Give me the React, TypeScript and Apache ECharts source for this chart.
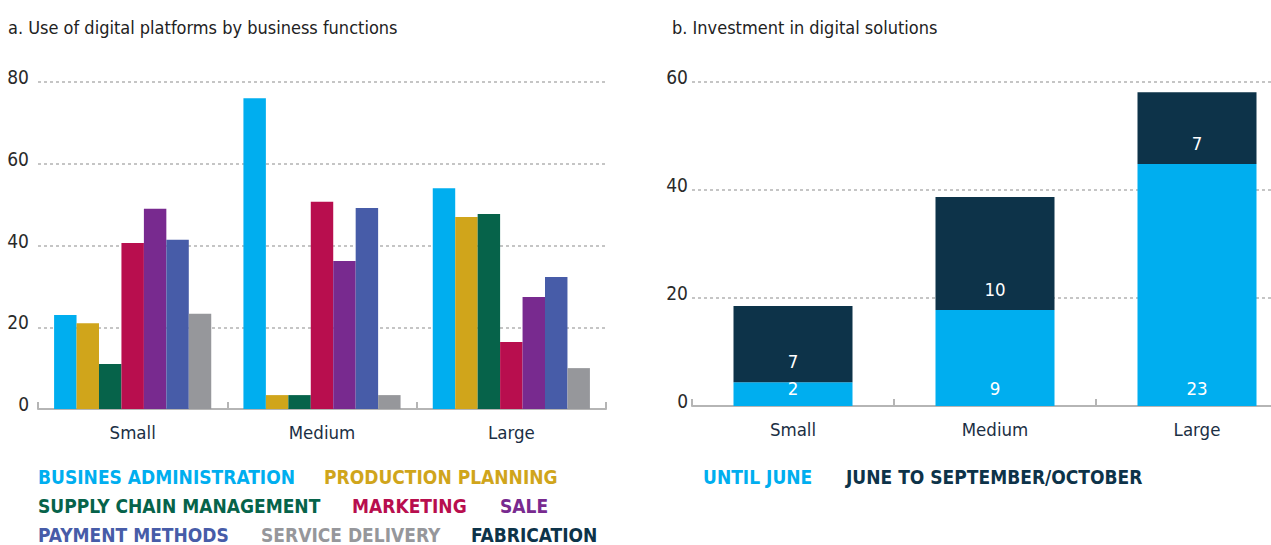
import React, { useEffect, useRef } from "react";
import * as echarts from "echarts";

const sizeCategories = ["Small", "Medium", "Large"];

const functionNames = [
  "BUSINES ADMINISTRATION",
  "PRODUCTION PLANNING",
  "SUPPLY CHAIN MANAGEMENT",
  "MARKETING",
  "SALE",
  "PAYMENT METHODS",
  "SERVICE DELIVERY",
];
const fabricationName = "FABRICATION";

const businesAdministration = [23, 76, 54];
const productionPlanning = [21, 3.4, 47];
const supplyChainManagement = [11, 3.4, 47.7];
const marketing = [40.6, 50.7, 16.4];
const sale = [49, 36.2, 27.4];
const paymentMethods = [41.4, 49.2, 32.3];
const serviceDelivery = [23.3, 3.4, 10];

const functionValues = [
  businesAdministration,
  productionPlanning,
  supplyChainManagement,
  marketing,
  sale,
  paymentMethods,
  serviceDelivery,
];

const functionColors = [
  "#00aeef",
  "#d0a51b",
  "#06634a",
  "#b80e4e",
  "#782a8f",
  "#475ca8",
  "#96979b",
];
const fabricationColor = "#0d3349";

const leftTicks = [0, 20, 40, 60, 80];
const rightTicks = [0, 20, 40, 60];

const investmentNames = ["UNTIL JUNE", "JUNE TO SEPTEMBER/OCTOBER"];
const untilJune = [4.4, 17.8, 44.8];
const juneToOctober = [14.1, 20.9, 13.3];
const untilJuneLabels = ["2", "9", "23"];
const juneToOctoberLabels = ["7", "10", "7"];
const investmentColors = ["#00aeef", "#0d3349"];

const titleA = "a. Use of digital platforms by business functions";
const titleB = "b. Investment in digital solutions";

const FONT = "'DejaVu Sans Condensed', 'Liberation Sans', sans-serif";

// legend layout (positions only)
const leftLegendPos = [
  [38, 477],
  [324, 477],
  [38, 506],
  [352, 506],
  [500, 506],
  [38, 535],
  [261, 535],
];
const fabricationPos = [471, 535];
const rightLegendPos = [
  [703, 477],
  [846, 477],
];

export default function App() {
  const ref = useRef<HTMLDivElement>(null);
  useEffect(() => {
    if (!ref.current) return;
    const chart = echarts.init(ref.current, undefined, { renderer: "svg" });

    const gridLine = {
      show: true,
      lineStyle: { color: "#b3b3b3", type: [3, 3] as any, width: 1.5 },
    };
    const axisLine = { show: true, lineStyle: { color: "#b5b5b5", width: 2 } };
    const yLabel = {
      fontFamily: FONT,
      fontSize: 19,
      color: "#2a2a2a",
      margin: 9,
      verticalAlign: "bottom",
      lineHeight: 10,
    };
    const xLabel = { fontFamily: FONT, fontSize: 18.5, color: "#1b2f44", margin: 14 };
    const xTick = { show: true, inside: true, length: 7, lineStyle: { color: "#b5b5b5", width: 2 } };

    const legendText = (text: string, pos: number[], color: string) => ({
      type: "text",
      x: pos[0],
      y: pos[1],
      style: {
        text,
        fill: color,
        fontFamily: FONT,
        fontWeight: "bold",
        fontSize: 19,
        verticalAlign: "middle",
      },
    });

    const option: any = {
      animation: false,
      title: [
        {
          text: titleA,
          left: 3,
          top: 13,
          textStyle: { fontFamily: FONT, fontSize: 18, fontWeight: "normal", color: "#222" },
        },
        {
          text: titleB,
          left: 667,
          top: 13,
          textStyle: { fontFamily: FONT, fontSize: 18, fontWeight: "normal", color: "#222" },
        },
      ],
      grid: [
        { left: 38, top: 82, width: 568, height: 327 },
        { left: 692, top: 82, width: 606, height: 324 },
      ],
      xAxis: [
        { type: "category", gridIndex: 0, data: sizeCategories, axisLine, axisTick: xTick, axisLabel: xLabel },
        { type: "category", gridIndex: 1, data: sizeCategories, axisLine, axisTick: xTick, axisLabel: xLabel },
      ],
      yAxis: [
        {
          type: "value",
          gridIndex: 0,
          min: leftTicks[0],
          max: leftTicks[leftTicks.length - 1],
          interval: 20,
          splitLine: gridLine,
          axisLine: { show: false },
          axisTick: { show: false },
          axisLabel: yLabel,
        },
        {
          type: "value",
          gridIndex: 1,
          min: rightTicks[0],
          max: rightTicks[rightTicks.length - 1],
          interval: 20,
          splitLine: gridLine,
          axisLine: { show: false },
          axisTick: { show: false },
          axisLabel: { ...yLabel, margin: 4 },
        },
      ],
      series: [
        ...functionNames.map((name, i) => ({
          name,
          type: "bar",
          xAxisIndex: 0,
          yAxisIndex: 0,
          data: functionValues[i],
          itemStyle: { color: functionColors[i] },
          barGap: "0%",
          barCategoryGap: "17%",
        })),
        {
          name: investmentNames[0],
          type: "bar",
          xAxisIndex: 1,
          yAxisIndex: 1,
          stack: "inv",
          data: untilJune,
          barWidth: 119,
          itemStyle: { color: investmentColors[0] },
          label: {
            show: true,
            position: "insideBottom",
            distance: 8,
            color: "#fff",
            fontFamily: FONT,
            fontSize: 18.5,
            formatter: (p: any) => untilJuneLabels[p.dataIndex],
          },
        },
        {
          name: investmentNames[1],
          type: "bar",
          xAxisIndex: 1,
          yAxisIndex: 1,
          stack: "inv",
          data: juneToOctober,
          barWidth: 119,
          itemStyle: { color: investmentColors[1] },
          label: {
            show: true,
            position: "insideBottom",
            distance: 11,
            color: "#fff",
            fontFamily: FONT,
            fontSize: 18.5,
            formatter: (p: any) => juneToOctoberLabels[p.dataIndex],
          },
        },
      ],
      graphic: [
        ...functionNames.map((n, i) => legendText(n, leftLegendPos[i], functionColors[i])),
        legendText(fabricationName, fabricationPos, fabricationColor),
        ...investmentNames.map((n, i) => legendText(n, rightLegendPos[i], investmentColors[i])),
      ],
    };
    chart.setOption(option);
    return () => chart.dispose();
  }, []);
  return (
    <div
      style={{
        position: "fixed",
        left: 0,
        top: 0,
        width: 1271,
        height: 545,
        overflow: "hidden",
        background: "#fff",
      }}
    >
      <div ref={ref} style={{ width: 1320, height: 545 }} />
    </div>
  );
}
